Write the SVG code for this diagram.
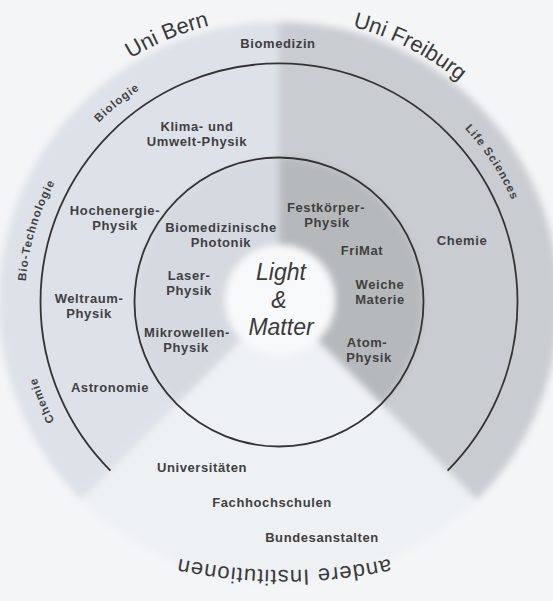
<svg xmlns="http://www.w3.org/2000/svg" xmlns:xlink="http://www.w3.org/1999/xlink" width="553" height="601" viewBox="0 0 553 601">
  <defs>
    <style>
      .lbl { font-family: "Liberation Sans", Arial, sans-serif; font-weight: bold; font-size: 13px; fill: #404040; text-anchor: middle; letter-spacing: 0.6px; }
      .arc { font-family: "Liberation Sans", Arial, sans-serif; font-weight: bold; font-size: 11.5px; fill: #424242; text-anchor: middle; letter-spacing: 1px; }
      .big { font-family: "Liberation Sans", Arial, sans-serif; font-size: 22px; fill: #3a3a3a; text-anchor: middle; }
      .lm { font-family: "Liberation Sans", Arial, sans-serif; font-style: italic; font-size: 23px; fill: #3a3a3a; text-anchor: middle; }
      .ring { fill: none; stroke: #333; stroke-width: 1.8; }
    </style>
    <filter id="soft" x="-10%" y="-10%" width="120%" height="120%">
      <feGaussianBlur stdDeviation="3.5"/>
    </filter>
    <path id="p285" d="M279,17 A285,285 0 1 1 279,587 A285,285 0 1 1 279,17"/>
    <path id="p254" d="M279,48 A254,254 0 1 1 279,556 A254,254 0 1 1 279,48"/>
    <path id="pBottom" d="M444,543.7 A500,500 0 0 1 124,543.7"/>
  </defs>

  <rect width="553" height="601" fill="#f3f5f7"/>

  <g id="sectors" filter="url(#soft)">
    <path id="sector-bern" d="M279,302 L81,500 A280,280 0 0 1 279,22 Z" fill="#dde2e8"/>
    <path id="sector-freiburg" d="M279,302 L279,22 A280,280 0 0 1 477,500 Z" fill="#c9ccd0"/>
    <path id="sector-andere" d="M279,302 L477,500 A280,280 0 0 1 81,500 Z" fill="#eef1f4"/>
    <path id="inner-bern" d="M279,302 L177.2,403.8 A144,144 0 0 1 279,158 Z" fill="#d5dae0"/>
    <path id="inner-freiburg" d="M279,302 L279,158 A144,144 0 0 1 380.8,403.8 Z" fill="#b6b9bc"/>
    <circle id="core" cx="280" cy="300" r="55" fill="#f8f9fa"/>
  </g>

  <g id="rings">
    <path class="ring" d="M110.4,470.6 A238.5,238.5 0 1 1 447.6,470.6"/>
    <circle class="ring" cx="279" cy="302" r="144.5"/>
  </g>

  <g id="center">
    <text class="lm" x="281" y="280">Light</text>
    <text class="lm" x="279" y="308">&amp;</text>
    <text class="lm" x="281" y="335">Matter</text>
  </g>

  <g id="titles">
    <text id="uni-bern" class="big"><textPath href="#p285" xlink:href="#p285" startOffset="1676.8">Uni Bern</textPath></text>
    <text id="uni-freiburg" class="big"><textPath href="#p285" xlink:href="#p285" startOffset="134.8">Uni Freiburg</textPath></text>
    <text id="andere" class="big" style="letter-spacing:1px"><textPath href="#pBottom" xlink:href="#pBottom" startOffset="50%">andere Institutionen</textPath></text>
  </g>

  <g id="arc-labels">
    <text id="biologie" class="arc"><textPath href="#p254" xlink:href="#p254" startOffset="1422.2">Biologie</textPath></text>
    <text id="bio-technologie" class="arc"><textPath href="#p254" xlink:href="#p254" startOffset="1269.7">Bio-Technologie</textPath></text>
    <text id="chemie-bern" class="arc"><textPath href="#p254" xlink:href="#p254" startOffset="1096.8">Chemie</textPath></text>
    <text id="life-sciences" class="arc"><textPath href="#p254" xlink:href="#p254" startOffset="251.4">Life Sciences</textPath></text>
  </g>

  <g id="bern-outer">
    <g id="biomedizin"><text class="lbl" x="278" y="48">Biomedizin</text></g>
    <g id="klima"><text class="lbl" x="197" y="131">Klima- und</text><text class="lbl" x="197" y="146">Umwelt-Physik</text></g>
    <g id="hochenergie"><text class="lbl" x="115" y="215">Hochenergie-</text><text class="lbl" x="115" y="230">Physik</text></g>
    <g id="weltraum"><text class="lbl" x="89" y="303">Weltraum-</text><text class="lbl" x="89" y="318">Physik</text></g>
    <g id="astronomie"><text class="lbl" x="110" y="392">Astronomie</text></g>
  </g>

  <g id="bern-inner">
    <g id="biomed-photonik"><text class="lbl" x="221" y="232">Biomedizinische</text><text class="lbl" x="221" y="247">Photonik</text></g>
    <g id="laser"><text class="lbl" x="189" y="280">Laser-</text><text class="lbl" x="189" y="295">Physik</text></g>
    <g id="mikrowellen"><text class="lbl" x="187" y="337">Mikrowellen-</text><text class="lbl" x="186" y="352">Physik</text></g>
  </g>

  <g id="freiburg-inner">
    <g id="festkoerper"><text class="lbl" x="326" y="212">Festkörper-</text><text class="lbl" x="327" y="227">Physik</text></g>
    <g id="frimat"><text class="lbl" x="362" y="255">FriMat</text></g>
    <g id="weiche"><text class="lbl" x="380" y="289">Weiche</text><text class="lbl" x="380" y="304">Materie</text></g>
    <g id="atom"><text class="lbl" x="367" y="347">Atom-</text><text class="lbl" x="369" y="362">Physik</text></g>
  </g>

  <g id="freiburg-outer">
    <g id="chemie-freiburg"><text class="lbl" x="462" y="245">Chemie</text></g>
  </g>

  <g id="andere-labels">
    <g id="universitaeten"><text class="lbl" x="202" y="472">Universitäten</text></g>
    <g id="fachhochschulen"><text class="lbl" x="272" y="507">Fachhochschulen</text></g>
    <g id="bundesanstalten"><text class="lbl" x="322" y="542">Bundesanstalten</text></g>
  </g>
</svg>
